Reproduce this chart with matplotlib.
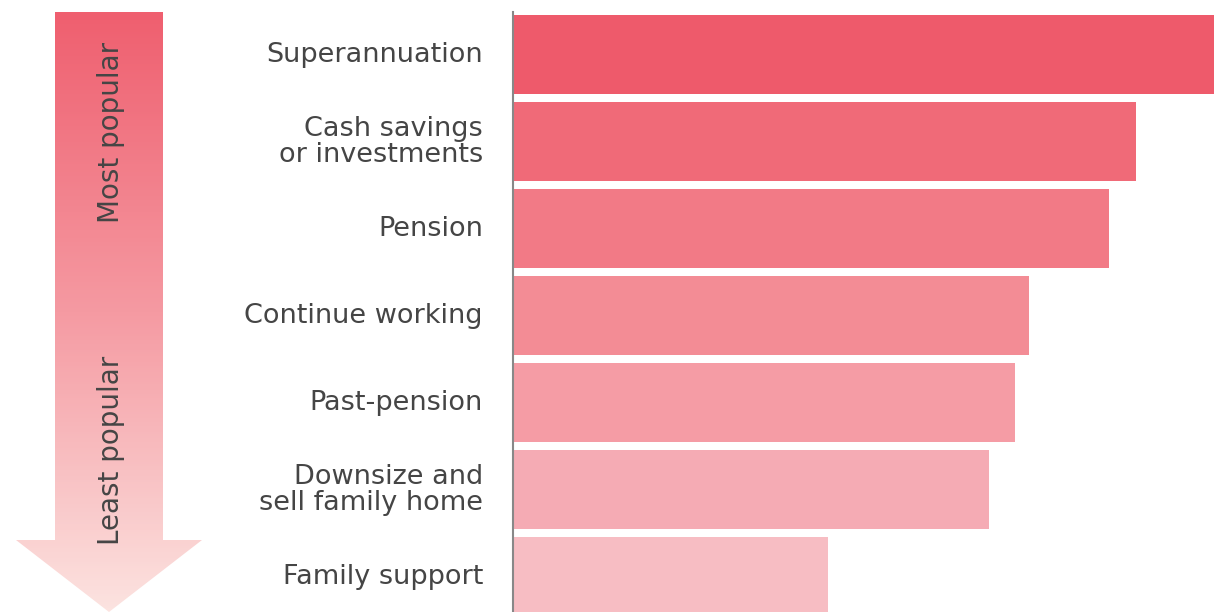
import matplotlib.pyplot as plt
import numpy as np
from matplotlib.patches import Polygon
from matplotlib.colors import LinearSegmentedColormap

# opciones de ingreso para la jubilacion, de mas a menos popular
categorias = ['Superannuation', 'Cash savings\nor investments', 'Pension',
              'Continue working', 'Past-pension', 'Downsize and\nsell family home',
              'Family support']
valores = [70.5, 62.3, 59.6, 51.6, 50.2, 47.6, 31.5]
colores = ['#EE5A6B', '#F06A78', '#F27A86', '#F38C95', '#F59CA5', '#F5ABB4', '#F7BDC3']

W, H = 1214, 612
fig = plt.figure(figsize=(W / 100, H / 100), dpi=100)
plt.rcParams['font.family'] = ['DejaVu Sans']

# flecha con degradado (en pixeles)
axf = fig.add_axes([0, 0, 1, 1])
axf.set_xlim(0, W)
axf.set_ylim(H, 0)
axf.axis('off')
flecha = [(55, 12), (163, 12), (163, 540), (202, 540), (109, 612), (16, 540), (55, 540)]
poli = Polygon(flecha, closed=True, facecolor='none', edgecolor='none')
axf.add_patch(poli)
cmap = LinearSegmentedColormap.from_list('deg', ['#EF5F6F', '#F59AA2', '#FCE3E0'])
grad = np.linspace(0, 1, 300).reshape(-1, 1)
img = axf.imshow(grad, cmap=cmap, extent=[16, 202, 612, 12], aspect='auto', zorder=1)
img.set_clip_path(poli)
axf.text(111, 132, 'Most popular', rotation=90, ha='center', va='center',
         fontsize=20, color='#454545')
axf.text(111, 450, 'Least popular', rotation=90, ha='center', va='center',
         fontsize=20, color='#454545')

# barras
ax = fig.add_axes([513 / W, 0, 1 - 513 / W, 600 / H])
pos = np.arange(len(categorias))
ax.barh(pos, valores, height=0.908, color=colores)
ax.set_xlim(0, 70.1)
ax.set_ylim(6.408, -0.489)
ax.set_yticks(pos)
ax.set_yticklabels(categorias, fontsize=19.5, color='#454545', linespacing=1.0)
for t in ax.get_yticklabels():
    t.set_va('center')
ax.tick_params(axis='y', length=0, pad=21.6)
ax.set_xticks([])
for s in ['top', 'right', 'bottom']:
    ax.spines[s].set_visible(False)
ax.spines['left'].set_color('#888888')
ax.spines['left'].set_linewidth(1.5)

fig.savefig('out.png', dpi=100)
